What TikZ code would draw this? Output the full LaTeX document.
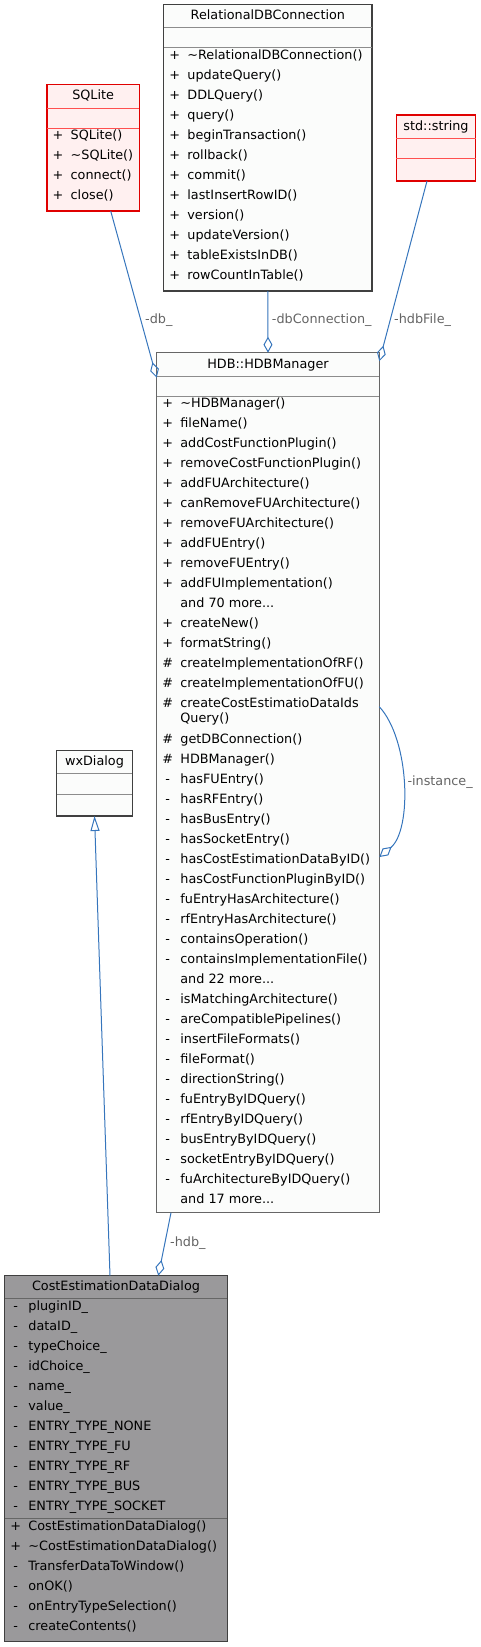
\documentclass[tikz,border=0pt]{standalone}
\usepackage{fontspec}
\setmainfont{DejaVu Sans}
\usepackage{xcolor}
\usetikzlibrary{arrows.meta,calc}

\definecolor{boxfill}{RGB}{251,252,251}
\definecolor{boxline}{RGB}{64,64,64}
\definecolor{mgrline}{RGB}{102,102,102}
\definecolor{sepgray}{RGB}{140,140,140}
\definecolor{redline}{RGB}{224,0,0}
\definecolor{redsep}{RGB}{255,80,80}
\definecolor{redfill}{RGB}{255,240,240}
\definecolor{curfill}{RGB}{154,153,155}
\definecolor{edgeblue}{RGB}{54,117,188}
\definecolor{labelgray}{RGB}{100,100,100}

\tikzset{
    classbox/.style={draw=boxline, fill=boxfill, line width=1.2pt, inner sep=0pt, outer sep=0pt, anchor=north west},
    redbox/.style={classbox, draw=redline, fill=redfill},
    curbox/.style={classbox, fill=curfill},
    sep/.style={draw=sepgray, line width=1pt},
    ttl/.style={inner sep=0pt, anchor=mid},
    sym/.style={inner sep=0pt, anchor=mid},
    mem/.style={inner sep=0pt, anchor=mid west},
    lbl/.style={text=labelgray, inner sep=0pt, anchor=mid west},
    agg/.style={draw=edgeblue, line width=1pt, -{Diamond[open, length=16pt, width=9pt]}},
    inh/.style={draw=edgeblue, line width=1pt, -{Triangle[open, length=15pt, width=9pt]}},
}

\begin{document}
\begin{tikzpicture}[x=1pt, y=-1pt, font=\fontsize{12.8}{15}\selectfont]
    \useasboundingbox (0,0) rectangle (481,1647);

    \node[classbox, minimum width=208.3pt, minimum height=286.3pt] (rdb) at (163.7,4.7) {};
    \node[redbox, minimum width=92.3pt, minimum height=126.3pt] (sqlite) at (47,84.7) {};
    \node[redbox, minimum width=79.4pt, minimum height=66pt] (str) at (396.3,115) {};
    \node[classbox, draw=mgrline, minimum width=222.6pt, minimum height=860pt] (mgr) at (156.7,352.7) {};
    \node[classbox, minimum width=75.6pt, minimum height=65.3pt] (wx) at (56.7,750.7) {};
    \node[curbox, minimum width=222.6pt, minimum height=366pt] (ced) at (4.7,1275.7) {};

    \foreach \b/\ta/\tb in {rdb/23/43, mgr/24/44, wx/22.6/43.3} {
        \draw[sep] ([yshift=-\ta pt]\b.north west) -- ([yshift=-\ta pt]\b.north east);
        \draw[sep] ([yshift=-\tb pt]\b.north west) -- ([yshift=-\tb pt]\b.north east);
    }
    \foreach \b/\ta/\tb in {sqlite/23.3/43.3, str/23.3/43.7} {
        \draw[sep, draw=redsep] ([yshift=-\ta pt]\b.north west) -- ([yshift=-\ta pt]\b.north east);
        \draw[sep, draw=redsep] ([yshift=-\tb pt]\b.north west) -- ([yshift=-\tb pt]\b.north east);
    }
    \foreach \tt in {22.6, 242.6} {
        \draw[sep, draw=mgrline] ([yshift=-\tt pt]ced.north west) -- ([yshift=-\tt pt]ced.north east);
    }

    \node[ttl] (rdb-t) at ($(rdb.north)+(0,12)$) {RelationalDBConnection};
    \node[ttl] (sqlite-t) at ($(sqlite.north)+(0,12)$) {SQLite};
    \node[ttl] (str-t) at ($(str.north)+(0,12.5)$) {std::string};
    \node[ttl] (mgr-t) at ($(mgr.north)+(0,13)$) {HDB::HDBManager};
    \node[ttl] (wx-t) at ($(wx.north)+(0,12)$) {wxDialog};
    \node[ttl] (ced-t) at ($(ced.north)+(0,12)$) {CostEstimationDataDialog};

    \foreach \s/\m [count=\k] in {+/{\textasciitilde RelationalDBConnection()}, +/{updateQuery()}, +/{DDLQuery()}, +/{query()}, +/{beginTransaction()}, +/{rollback()}, +/{commit()}, +/{lastInsertRowID()}, +/{version()}, +/{updateVersion()}, +/{tableExistsInDB()}, +/{rowCountInTable()}} {
        \node[sym] (rdb-s\k) at ($(rdb.north west)+(11,32+20*\k)$) {\s};
        \node[mem] (rdb-m\k) at ($(rdb.north west)+(23.5,32+20*\k)$) {\m};
    }
    \foreach \s/\m [count=\k] in {+/{SQLite()}, +/{\textasciitilde SQLite()}, +/{connect()}, +/{close()}} {
        \node[sym] (sqlite-s\k) at ($(sqlite.north west)+(11,31.6+20*\k)$) {\s};
        \node[mem] (sqlite-m\k) at ($(sqlite.north west)+(23.5,31.6+20*\k)$) {\m};
    }
    \foreach \s/\m [count=\k] in {+/{\textasciitilde HDBManager()}, +/{fileName()}, +/{addCostFunctionPlugin()}, +/{removeCostFunctionPlugin()}, +/{addFUArchitecture()}, +/{canRemoveFUArchitecture()}, +/{removeFUArchitecture()}, +/{addFUEntry()}, +/{removeFUEntry()}, +/{addFUImplementation()}, {}/{and 70 more...}, +/{createNew()}, +/{formatString()}, \#/{createImplementationOfRF()}, \#/{createImplementationOfFU()}, \#/{createCostEstimatioDataIds}} {
        \node[sym] (mgr-s\k) at ($(mgr.north west)+(11,32.3+20*\k)$) {\s};
        \node[mem] (mgr-m\k) at ($(mgr.north west)+(23.5,32.3+20*\k)$) {\m};
    }
    \node[mem] (mgr-wrap) at ($(mgr.north west)+(23.5,367.3)$) {Query()};
    \foreach \s/\m [count=\k] in {\#/{getDBConnection()}, \#/{HDBManager()}, -/{hasFUEntry()}, -/{hasRFEntry()}, -/{hasBusEntry()}, -/{hasSocketEntry()}, -/{hasCostEstimationDataByID()}, -/{hasCostFunctionPluginByID()}, -/{fuEntryHasArchitecture()}, -/{rfEntryHasArchitecture()}, -/{containsOperation()}, -/{containsImplementationFile()}, {}/{and 22 more...}, -/{isMatchingArchitecture()}, -/{areCompatiblePipelines()}, -/{insertFileFormats()}, -/{fileFormat()}, -/{directionString()}, -/{fuEntryByIDQuery()}, -/{rfEntryByIDQuery()}, -/{busEntryByIDQuery()}, -/{socketEntryByIDQuery()}, -/{fuArchitectureByIDQuery()}, {}/{and 17 more...}} {
        \node[sym] (mgr-p\k) at ($(mgr.north west)+(11,368+20*\k)$) {\s};
        \node[mem] (mgr-q\k) at ($(mgr.north west)+(23.5,368+20*\k)$) {\m};
    }
    \foreach \m [count=\k] in {pluginID\_, dataID\_, typeChoice\_, idChoice\_, name\_, value\_, ENTRY\_TYPE\_NONE, ENTRY\_TYPE\_FU, ENTRY\_TYPE\_RF, ENTRY\_TYPE\_BUS, ENTRY\_TYPE\_SOCKET} {
        \node[sym] (ced-s\k) at ($(ced.north west)+(11,12+20*\k)$) {-};
        \node[mem] (ced-m\k) at ($(ced.north west)+(23.5,12+20*\k)$) {\m};
    }
    \foreach \s/\m [count=\k] in {+/{CostEstimationDataDialog()}, +/{\textasciitilde CostEstimationDataDialog()}, -/{TransferDataToWindow()}, -/{onOK()}, -/{onEntryTypeSelection()}, -/{createContents()}} {
        \node[sym] (ced-p\k) at ($(ced.north west)+(11,232+20*\k)$) {\s};
        \node[mem] (ced-q\k) at ($(ced.north west)+(23.5,232+20*\k)$) {\m};
    }

    \draw[agg] ([xshift=63.7pt]sqlite.south west) -- ([yshift=-25pt]mgr.north west);
    \draw[agg] (rdb.south) -- (mgr.north);
    \draw[agg] ([xshift=30.7pt]str.south west) -- ([yshift=-8.5pt]mgr.north east);
    \draw[agg] ([yshift=-354pt]mgr.north east) .. controls (410,740) and (412,830) .. ([yshift=-504.3pt]mgr.north east);
    \draw[agg] ([xshift=14.3pt]mgr.south west) -- ([xshift=153.6pt]ced.north west);
    \draw[inh] ([xshift=105.3pt]ced.north west) -- (wx.south);

    \node[lbl] (lbl-db) at (145,321) {-db\_};
    \node[lbl] (lbl-conn) at (271.7,321) {-dbConnection\_};
    \node[lbl] (lbl-file) at (394,321) {-hdbFile\_};
    \node[lbl] (lbl-inst) at (407.3,782.7) {-instance\_};
    \node[lbl] (lbl-hdb) at (170,1243.3) {-hdb\_};
\end{tikzpicture}
\end{document}
